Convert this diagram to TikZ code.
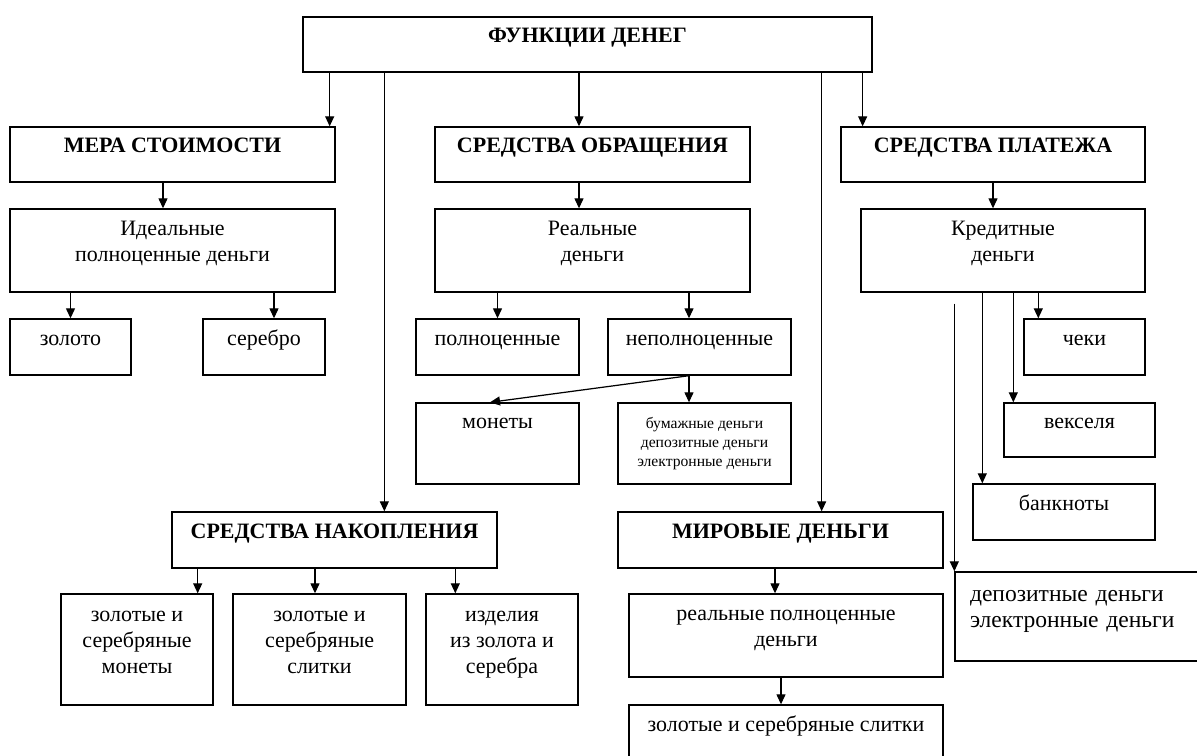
\documentclass[tikz,border=0pt]{standalone}
\usepackage{fontspec}
\setmainfont{Liberation Serif}
\usetikzlibrary{arrows.meta}
\newcommand{\txtsize}{\fontsize{12.5}{14.8}\selectfont}
\newcommand{\smalltxt}{\fontsize{8.9}{10.8}\selectfont}
\newcommand{\bigtxt}{\fontsize{13.4}{14.8}\selectfont}
\newcommand{\lifted}[2][0.28cm]{\raisebox{0pt}[\height][\dimexpr\depth+#1\relax]{\begin{tabular}{@{}c@{}}#2\end{tabular}}}
\newcommand{\liftedl}[2][0.28cm]{\raisebox{0pt}[\height][\dimexpr\depth+#1\relax]{\begin{tabular}{@{}l@{}}#2\end{tabular}}}

\begin{document}
\begin{tikzpicture}[
  x=0.02cm, y=-0.02cm,
  box/.style={draw=black, line width=0.8pt, rectangle, inner sep=0pt, font=\txtsize},
  head/.style={box, font=\txtsize\bfseries},
  note/.style={box, font=\smalltxt},
  arr/.style={-{Triangle[length=0.2cm, width=0.18cm]}, line width=0.7pt, draw=black}
]
\useasboundingbox (0,0) rectangle (1197,755);
\clip (0,0) rectangle (1197,755);

\node[head, minimum width=11.38cm, minimum height=1.1cm] (top) at (587.5,44.5) {\lifted{ФУНКЦИИ ДЕНЕГ}};
\node[head, minimum width=6.5cm, minimum height=1.1cm] (mera) at (172.5,154.5) {\lifted{МЕРА СТОИМОСТИ}};
\node[head, minimum width=6.3cm, minimum height=1.1cm] (obr) at (592.5,154.5) {\lifted{СРЕДСТВА ОБРАЩЕНИЯ}};
\node[head, minimum width=6.08cm, minimum height=1.1cm] (plat) at (993,154.5) {\lifted{СРЕДСТВА ПЛАТЕЖА}};

\node[box, minimum width=6.5cm, minimum height=1.66cm] (ideal) at (172.5,250.5) {\lifted{Идеальные\\полноценные деньги}};
\node[box, minimum width=6.3cm, minimum height=1.66cm] (real) at (592.5,250.5) {\lifted{Реальные\\деньги}};
\node[box, minimum width=5.68cm, minimum height=1.66cm] (kred) at (1003,250.5) {\lifted{Кредитные\\деньги}};

\node[box, minimum width=2.42cm, minimum height=1.12cm] (zoloto) at (70.5,347) {\lifted{золото}};
\node[box, minimum width=2.44cm, minimum height=1.12cm] (serebro) at (264,347) {\lifted{серебро}};
\node[box, minimum width=3.26cm, minimum height=1.12cm] (polnoc) at (497.5,347) {\lifted{полноценные}};
\node[box, minimum width=3.66cm, minimum height=1.12cm] (nepoln) at (699.5,347) {\lifted{неполноценные}};
\node[box, minimum width=2.42cm, minimum height=1.12cm] (cheki) at (1084.5,347) {\lifted{чеки}};

\node[box, minimum width=3.26cm, minimum height=1.62cm] (monety) at (497.5,443.5) {\lifted[0.82cm]{монеты}};
\node[note, minimum width=3.46cm, minimum height=1.62cm] (bum) at (704.5,443.5) {\lifted[0cm]{бумажные деньги\\депозитные деньги\\электронные деньги}};
\node[box, minimum width=3.02cm, minimum height=1.08cm] (veks) at (1079.5,430) {\lifted{векселя}};
\node[box, minimum width=3.64cm, minimum height=1.12cm] (bank) at (1064,512) {\lifted{банкноты}};

\node[head, minimum width=6.5cm, minimum height=1.12cm] (nakop) at (334.5,540) {\lifted{СРЕДСТВА НАКОПЛЕНИЯ}};
\node[head, minimum width=6.5cm, minimum height=1.12cm] (mir) at (780.5,540) {\lifted{МИРОВЫЕ ДЕНЬГИ}};
\node[box, font=\bigtxt, minimum width=5.2cm, minimum height=1.78cm, text width=4.6cm, align=left, inner xsep=0.3cm] (depo) at (1085,616.5) {\liftedl{депозитные деньги\\электронные деньги}};

\node[box, minimum width=3.04cm, minimum height=2.22cm] (zmon) at (137,649.5) {\lifted{золотые и\\серебряные\\монеты}};
\node[box, minimum width=3.46cm, minimum height=2.22cm] (zslit) at (319.5,649.5) {\lifted{золотые и\\серебряные\\слитки}};
\node[box, minimum width=3.04cm, minimum height=2.22cm] (izd) at (502,649.5) {\lifted{изделия\\из золота и\\серебра}};
\node[box, minimum width=6.28cm, minimum height=1.66cm] (realpol) at (786,635.5) {\lifted{реальные полноценные\\деньги}};
\node[box, minimum width=6.28cm, minimum height=1.14cm] (slit) at (786,733.5) {\lifted{золотые и серебряные слитки}};

\coordinate (gap) at ([yshift=-0.22cm]kred.south -| depo.north west);

\draw[arr] ([xshift=-0.12cm]mera.north east |- top.south) -- ([xshift=-0.12cm]mera.north east);
\draw[arr] ([xshift=1.64cm]top.south west) -- ([xshift=1.64cm]top.south west |- nakop.north);
\draw[arr] ([xshift=-0.27cm]obr.north |- top.south) -- ([xshift=-0.27cm]obr.north);
\draw[arr] ([xshift=-1.02cm]top.south east) -- ([xshift=-1.02cm]top.south east |- mir.north);
\draw[arr] ([xshift=-0.2cm]top.south east) -- ([xshift=-0.2cm]top.south east |- plat.north);

\draw[arr] ([xshift=-0.19cm]mera.south) -- ([xshift=-0.19cm]mera.south |- ideal.north);
\draw[arr] (zoloto.north |- ideal.south) -- (zoloto.north);
\draw[arr] ([xshift=0.2cm]serebro.north |- ideal.south) -- ([xshift=0.2cm]serebro.north);

\draw[arr] ([xshift=-0.27cm]obr.south) -- ([xshift=-0.27cm]obr.south |- real.north);
\draw[arr] (polnoc.north |- real.south) -- (polnoc.north);
\draw[arr] ([xshift=-0.21cm]nepoln.north |- real.south) -- ([xshift=-0.21cm]nepoln.north);
\draw[arr] ([xshift=-0.21cm]nepoln.south) -- ([xshift=-0.15cm]monety.north);
\draw[arr] ([xshift=-0.21cm]nepoln.south) -- ([xshift=-0.21cm]nepoln.south |- bum.north);

\draw[arr] (plat.south) -- (plat.south |- kred.north);
\draw[arr] ([xshift=0.3cm]cheki.north west |- kred.south) -- ([xshift=0.3cm]cheki.north west);
\draw[arr] ([xshift=0.2cm]veks.north west |- kred.south) -- ([xshift=0.2cm]veks.north west);
\draw[arr] ([xshift=0.2cm]bank.north west |- kred.south) -- ([xshift=0.2cm]bank.north west);
\draw[arr] (gap) -- (depo.north west);

\draw[arr] ([xshift=-0.32cm]zmon.north east |- nakop.south) -- ([xshift=-0.32cm]zmon.north east);
\draw[arr] ([xshift=-0.09cm]zslit.north |- nakop.south) -- ([xshift=-0.09cm]zslit.north);
\draw[arr] ([xshift=0.6cm]izd.north west |- nakop.south) -- ([xshift=0.6cm]izd.north west);
\draw[arr] ([xshift=-0.22cm]realpol.north |- mir.south) -- ([xshift=-0.22cm]realpol.north);
\draw[arr] ([xshift=-0.1cm]slit.north |- realpol.south) -- ([xshift=-0.1cm]slit.north);
\end{tikzpicture}
\end{document}
